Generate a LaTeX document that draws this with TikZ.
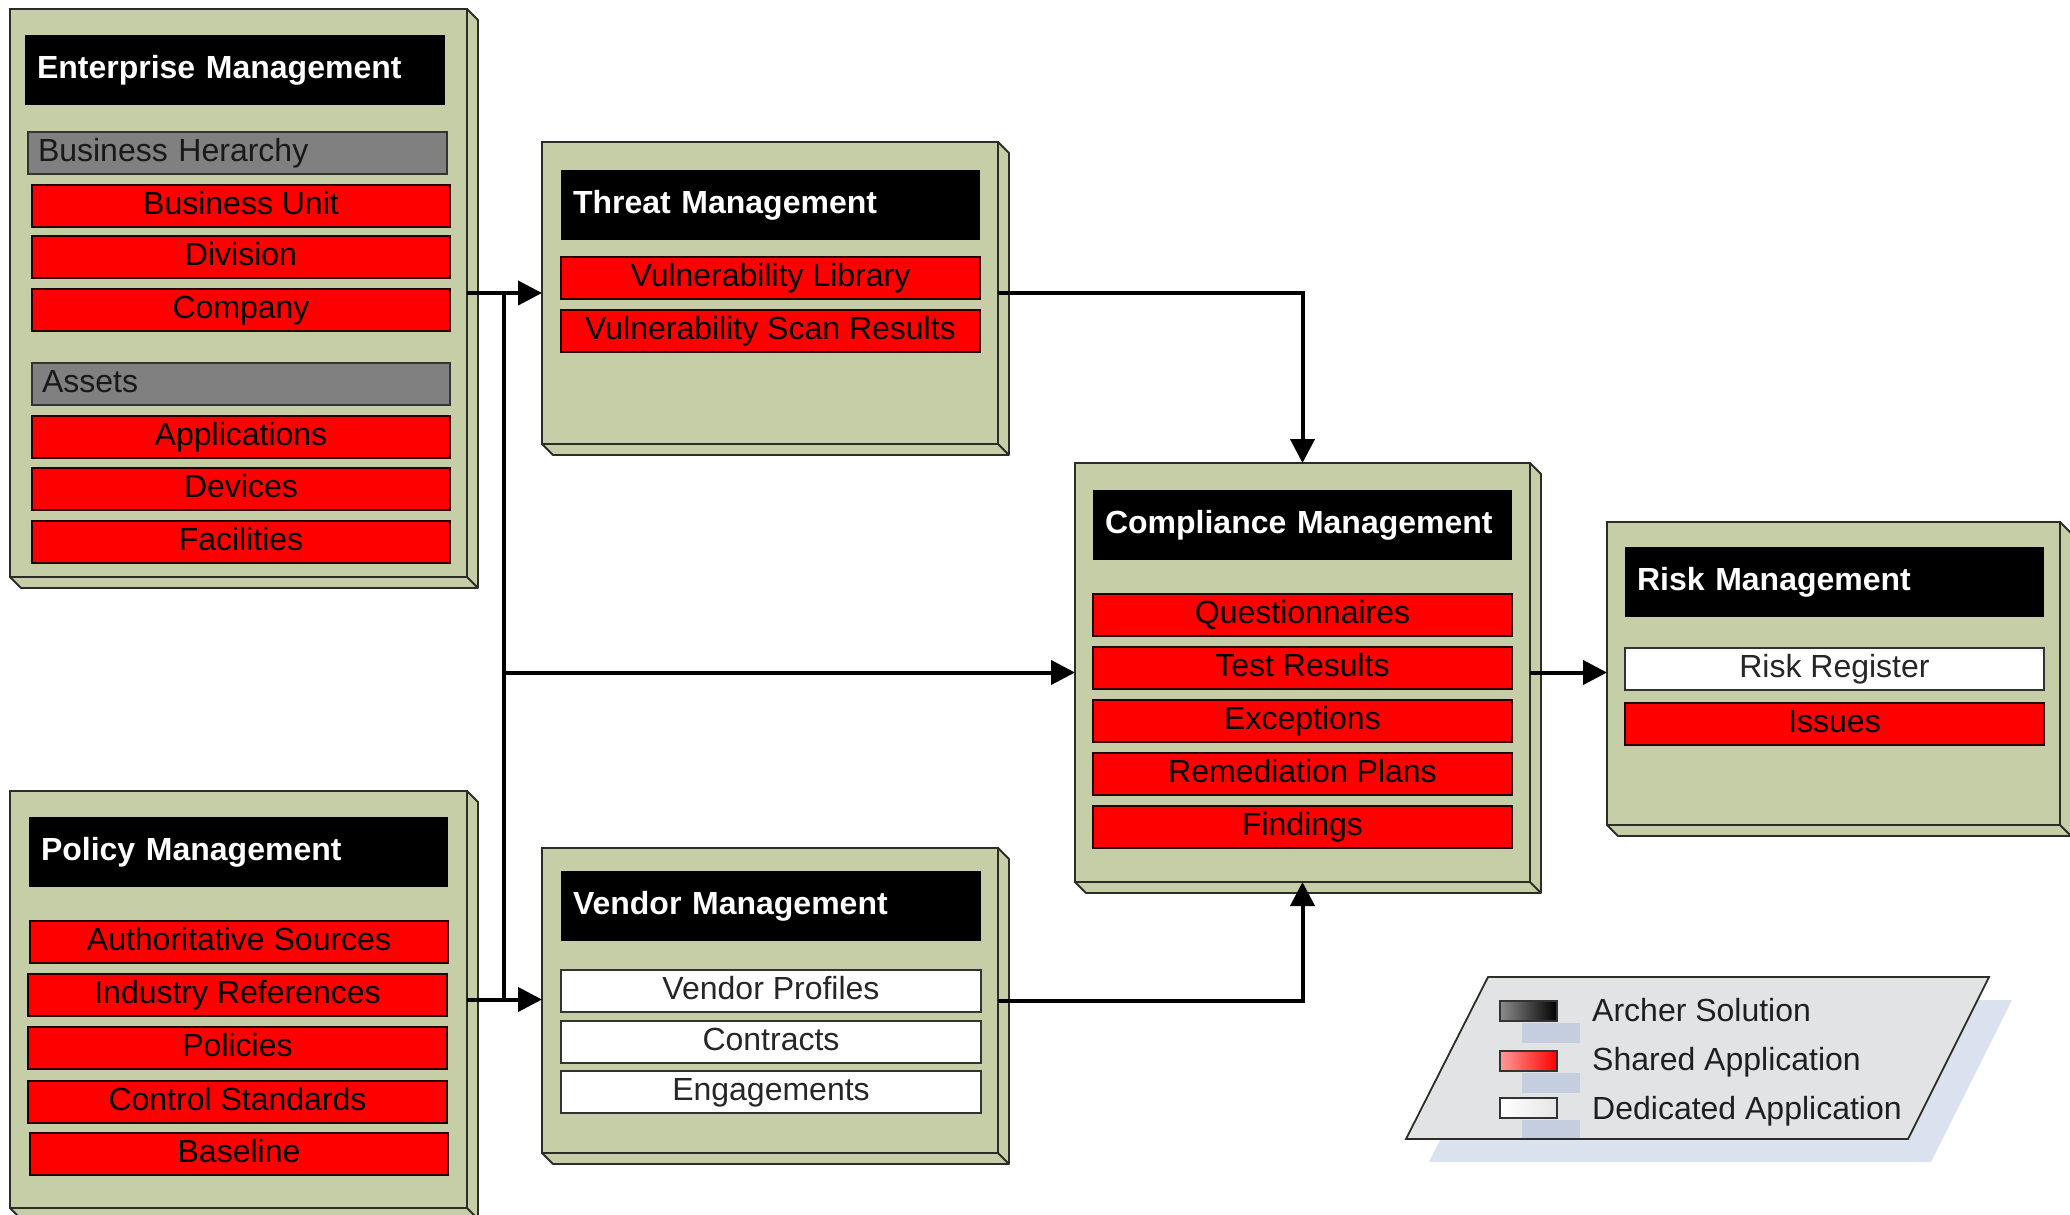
\documentclass[tikz,border=0pt]{standalone}
\usepackage{fontspec}
\setmainfont{Liberation Sans}
\usetikzlibrary{arrows.meta,calc}

\definecolor{panelfill}{RGB}{198,206,168}
\definecolor{edge}{RGB}{45,45,40}
\definecolor{cellred}{RGB}{255,0,0}
\definecolor{cellgray}{RGB}{128,128,128}
\definecolor{legendfill}{RGB}{226,227,229}
\definecolor{legendshadow}{RGB}{218,226,240}
\definecolor{swatchshadow}{RGB}{196,206,222}

\tikzset{
  panel/.style={draw=edge, line width=1.8pt, fill=panelfill, anchor=north west,
    inner sep=0pt, outer sep=0pt},
  face/.style={draw=edge, line width=1.8pt, fill=panelfill, line join=round},
  cell/.style={anchor=north west, inner sep=0pt, outer sep=0pt, minimum height=42pt,
    text height=23pt, text depth=6pt, font=\fontsize{32}{38}\selectfont, line width=1.6pt},
  redcell/.style={cell, draw=black!85!red, fill=cellred, text=black},
  whitecell/.style={cell, draw=black!80, fill=white, text=black!85},
  graycell/.style={cell, draw=black!80, fill=cellgray, text=black!90,
    text width=#1, align=left, inner xsep=10pt},
  titlecell/.style={anchor=north west, inner xsep=12pt, inner ysep=0pt, outer sep=0pt,
    fill=black, text=white, minimum height=70pt, text width=#1, align=left,
    font=\fontsize{32}{38}\selectfont\bfseries, text height=23pt, text depth=6pt},
  link/.style={line width=4pt, draw=black},
  arrow/.style={link, -{Triangle[length=24pt,width=24pt]}},
  legendtext/.style={anchor=west, inner sep=0pt, font=\fontsize{32}{38}\selectfont,
    text=black!88, text height=23pt, text depth=0pt},
  swatch/.style={anchor=north west, inner sep=0pt, outer sep=0pt, minimum width=57pt,
    minimum height=20pt, draw=black!80, line width=1.4pt},
}

% right and bottom faces of a raised panel
\newcommand\panelsides[1]{%
  \draw[face] (#1.north east) -- ++(11,11) -- ($(#1.south east)+(11,11)$)
    -- ($(#1.south west)+(11,11)$) -- (#1.south west) -- (#1.south east) -- cycle;
  \draw[face] (#1.south east) -- ++(11,11);
}

\begin{document}
\begin{tikzpicture}[x=1pt,y=-1pt]
\useasboundingbox[fill=white] (0,0) rectangle (2070,1215);

% ---------- panels ----------
\node[panel, minimum width=457pt, minimum height=568pt] (ent) at (10,9) {};
\node[panel, minimum width=456pt, minimum height=302pt] (threat) at (542,142) {};
\node[panel, minimum width=455pt, minimum height=419pt] (comp) at (1075,463) {};
\node[panel, minimum width=453pt, minimum height=303pt] (risk) at (1607,522) {};
\node[panel, minimum width=457pt, minimum height=417pt] (pol) at (10,791) {};
\node[panel, minimum width=456pt, minimum height=305pt] (vendor) at (542,848) {};
\panelsides{ent}
\panelsides{threat}
\panelsides{comp}
\panelsides{risk}
\panelsides{pol}
\panelsides{vendor}

% ---------- Enterprise Management ----------
\node[titlecell=396pt] (ent-t) at (25,35) {Enterprise Management};
\node[graycell=399pt] (ent-bh) at (28,132) {Business Herarchy};
\node[redcell, minimum width=418pt] (ent-bu) at (32,185) {Business Unit};
\node[redcell, minimum width=418pt] (ent-div) at (32,236) {Division};
\node[redcell, minimum width=418pt] (ent-co) at (32,289) {Company};
\node[graycell=398pt] (ent-as) at (32,363) {Assets};
\node[redcell, minimum width=418pt] (ent-app) at (32,416) {Applications};
\node[redcell, minimum width=418pt] (ent-dev) at (32,468) {Devices};
\node[redcell, minimum width=418pt] (ent-fac) at (32,521) {Facilities};

% ---------- Threat Management ----------
\node[titlecell=395pt] (thr-t) at (561,170) {Threat Management};
\node[redcell, minimum width=419pt] (thr-vl) at (561,257) {Vulnerability Library};
\node[redcell, minimum width=419pt] (thr-vs) at (561,310) {Vulnerability Scan Results};

% ---------- Compliance Management ----------
\node[titlecell=395pt] (cmp-t) at (1093,490) {Compliance Management};
\node[redcell, minimum width=419pt] (cmp-q) at (1093,594) {Questionnaires};
\node[redcell, minimum width=419pt] (cmp-tr) at (1093,647) {Test Results};
\node[redcell, minimum width=419pt] (cmp-ex) at (1093,700) {Exceptions};
\node[redcell, minimum width=419pt] (cmp-rp) at (1093,753) {Remediation Plans};
\node[redcell, minimum width=419pt] (cmp-fi) at (1093,806) {Findings};

% ---------- Risk Management ----------
\node[titlecell=395pt] (rsk-t) at (1625,547) {Risk Management};
\node[whitecell, minimum width=419pt] (rsk-rr) at (1625,648) {Risk Register};
\node[redcell, minimum width=419pt] (rsk-is) at (1625,703) {Issues};

% ---------- Policy Management ----------
\node[titlecell=395pt] (pol-t) at (29,817) {Policy Management};
\node[redcell, minimum width=418pt] (pol-as) at (30,921) {Authoritative Sources};
\node[redcell, minimum width=419pt] (pol-ir) at (28,974) {Industry References};
\node[redcell, minimum width=419pt] (pol-po) at (28,1027) {Policies};
\node[redcell, minimum width=419pt] (pol-cs) at (28,1081) {Control Standards};
\node[redcell, minimum width=418pt] (pol-bl) at (30,1133) {Baseline};

% ---------- Vendor Management ----------
\node[titlecell=396pt] (ven-t) at (561,871) {Vendor Management};
\node[whitecell, minimum width=420pt] (ven-vp) at (561,970) {Vendor Profiles};
\node[whitecell, minimum width=420pt] (ven-co) at (561,1021) {Contracts};
\node[whitecell, minimum width=420pt] (ven-en) at (561,1071) {Engagements};

% ---------- connectors ----------
\coordinate (bus) at (504,0);
\draw[link] (ent.east -| bus) -- (pol.east -| bus);
\draw[arrow] (ent.east) -- (ent.east -| threat.west);
\draw[arrow] (pol.east) -- (pol.east -| vendor.west);
\draw[arrow] (comp.west -| bus) -- (comp.west);
\draw[arrow] (threat.east) -| (comp.north);
\draw[arrow] (vendor.east) -| (comp.south);
\draw[arrow] (comp.east) -- (comp.east -| risk.west);

% ---------- legend ----------
\fill[legendshadow] (1511,1000) -- (2012,1000) -- (1931,1162) -- (1429,1162) -- cycle;
\draw[fill=legendfill, draw=edge, line width=1.8pt]
  (1488,977) -- (1989,977) -- (1908,1139) -- (1406,1139) -- cycle;
\fill[swatchshadow] (1522,1023) rectangle (1580,1043);
\fill[swatchshadow] (1522,1073) rectangle (1580,1093);
\fill[swatchshadow] (1522,1120) rectangle (1580,1138);
\node[swatch, left color=black!45, right color=black] (sw-a) at (1500,1001) {};
\node[swatch, left color=red!40!white, right color=red] (sw-s) at (1500,1051) {};
\node[swatch, left color=white, right color=black!10] (sw-d) at (1500,1098) {};
\node[legendtext] (lg-a) at (1592,1010) {Archer Solution};
\node[legendtext] (lg-s) at (1592,1059) {Shared Application};
\node[legendtext] (lg-d) at (1592,1108) {Dedicated Application};
\end{tikzpicture}
\end{document}
